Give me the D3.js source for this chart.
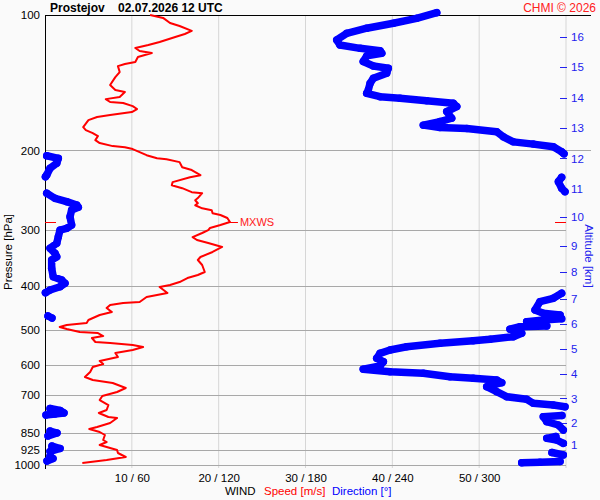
<!DOCTYPE html>
<html><head><meta charset="utf-8">
<script src="https://cdn.jsdelivr.net/npm/d3@7"></script>
<style>body{margin:0;background:#fafafa}svg{display:block;font-family:"Liberation Sans",Arial,sans-serif}</style>
</head><body><svg id="c" width="600" height="500"></svg>
<script>
// ---- data ----
const pressureTicks = [100,200,300,400,500,600,700,850,925,1000];
const speedTicks = [10,20,30,40,50];
const altitudeKm = [1,2,3,4,5,6,7,8,9,10,11,12,13,14,15,16];
const altitudePressure = [904.1,805.4,711.0,628.7,553.2,486.8,427.6,372.5,325.6,281.2,243.5,208.2,178.1,152.7,130.3,111.9];
const maxWindPressure = 288.4;
const maxWindLabel = "MXWS";

const speedPressure = [100,101.5,104.2,105.8,108.5,110.2,111.9,114.8,116.6,118.4,120.2,121.5,124.0,127.2,128.5,129.9,133.9,137.4,143.1,146.8,148.3,152.2,153.8,156.1,156.9,159.4,161.8,164.3,166.8,168.5,171.2,177.5,180.2,183.0,185.8,189.7,192.6,195.6,196.7,198.6,201.7,204.9,208.1,209.1,212.3,217.9,221.1,227.0,229.3,235.2,238.9,242.6,247.6,248.8,255.2,258.0,262.0,264.7,268.9,271.6,275.8,278.3,282.6,288.4,292.9,297.4,300.5,305.1,311.5,316.2,321.1,327.7,336.2,345.0,350.3,359.4,372.5,378.3,384.2,392.1,398.1,402.2,414.7,419.0,423.3,434.3,436.6,441.0,447.8,457.1,464.2,476.2,483.6,488.5,493.5,498.6,506.4,509.0,516.8,522.2,532.9,535.7,541.2,546.8,555.2,563.8,575.5,587.3,596.4,605.7,621.3,637.5,647.3,657.3,674.4,688.3,702.6,717.1,735.7,754.7,766.4,782.3,786.3,806.6,823.3,831.8,844.6,857.7,879.9,889.0,902.7,926.1,940.4,959.9,974.7,989.8];
const speedValue = [12.1,13.6,14.4,15.5,16.9,16.1,15.0,13.2,11.9,10.4,10.9,12.3,10.7,10.4,9.2,8.4,8.6,8.1,7.5,8.1,9.2,8.6,7.0,7.5,9.0,10.1,10.6,10.0,7.5,6.0,5.0,4.4,4.7,5.5,6.1,5.8,6.3,7.8,9.2,10.1,10.9,11.7,12.9,14.0,15.5,15.8,16.9,17.9,16.7,14.7,14.6,15.8,16.9,18.1,17.6,17.3,17.6,17.3,18.1,19.2,19.3,20.2,21.0,21.3,20.2,19.0,18.8,18.1,17.0,17.5,18.8,20.4,19.3,17.9,17.6,18.1,18.4,17.6,16.4,15.5,14.4,13.2,14.1,12.9,11.7,10.9,9.0,7.5,7.1,7.7,6.3,5.0,4.8,2.5,1.7,2.5,4.0,6.1,6.7,5.4,5.8,7.5,10.1,11.3,10.1,8.1,8.4,6.3,6.7,5.5,5.2,4.6,5.5,7.8,9.3,8.3,6.6,6.3,7.3,7.1,6.2,7.3,8.3,7.5,6.0,5.1,6.3,6.9,6.7,7.1,6.3,8.3,8.4,9.3,7.1,4.3];

const dirPressure = [98.8,101.7,104.3,107.0,109.8,113.6,116.6,118.6,120.0,121.6,123.3,126.9,129.8,131.3,134.7,138.2,141.9,146.8,149.3,151.9,153.1,155.0,157.0,159.8,163.9,169.6,172.5,175.7,177.8,178.7,181.8,186.5,191.4,193.6,196.3,201.4,203.5,205.5,208.2,213.6,219.1,226.7,228.7,229.5,234.6,242.7,246.9,249.0,255.5,259.9,264.4,267.5,271.3,280.7,292.9,297.9,300.5,311.0,321.6,329.9,338.5,344.5,350.3,365.5,381.6,388.1,394.7,401.6,408.4,414.1,415.3,426.2,433.6,452.4,460.1,464.2,466.6,471.4,473.0,476.2,480.3,488.5,491.0,492.7,499.2,509.8,518.7,525.6,529.4,536.5,545.9,555.2,564.7,579.3,589.4,602.6,612.8,620.4,625.5,636.5,641.8,647.3,656.3,669.9,687.2,705.1,714.5,729.4,735.7,742.1,748.9,756.7,766.4,770.3,774.3,776.3,781.0,801.2,814.9,836.0,840.3,848.9,862.1,864.3,872.4,879.9,894.9,907.3,918.9,933.3,938.0,950.1,955.0,967.2,979.7,982.2,985.7,988.2];
const dirValue = [270.7,256.8,240.7,222.3,208.5,201.6,203.8,217.7,231.5,232.7,222.3,219.9,226.9,237.2,236.1,226.9,224.6,223.4,222.3,231.5,245.3,263.7,282.1,284.5,277.6,281.0,272.9,261.4,272.9,291.4,312.1,316.7,323.6,337.4,351.2,357.0,358.6,1.2,9.2,8.1,3.5,1.2,0.3,357.0,354.7,357.0,359.3,1.2,6.9,15.0,21.9,23.0,18.4,17.3,18.4,15.0,10.4,9.2,8.1,3.5,6.9,8.1,4.6,4.6,5.7,11.5,13.8,10.4,3.5,0.3,357.0,351.2,342.0,338.6,344.3,355.9,2.1,4.8,357.0,344.3,332.8,342.0,346.7,328.2,321.3,329.4,323.6,307.5,295.9,272.9,249.9,238.4,231.5,229.2,233.8,231.5,219.9,238.4,261.4,279.8,295.9,312.1,315.6,305.2,312.1,319.0,332.8,337.4,351.2,359.3,3.5,10.4,13.1,6.9,0.7,357.2,344.3,346.7,354.7,358.1,3.5,8.3,2.1,353.0,346.7,353.6,358.1,4.8,10.4,3.5,350.3,358.1,3.5,5.5,1.4,355.9,342.0,329.4];

// ---- layout ----
const L = 45, R = 566, T = 15, B = 465, RX = 591;
const svg = d3.select("#c");
svg.append("rect").attr("width",600).attr("height",500).attr("fill","#fafafa");

const y = d3.scaleLog().domain([100,1000]).range([T,B]);
const xs = d3.scaleLinear().domain([0,60]).range([L,R]);
const xd = d3.scaleLinear().domain([0,360]).range([L,R]);

// vertical grid
svg.append("g").selectAll("line").data(speedTicks.concat([60])).join("line")
  .attr("x1",d=>xs(d)).attr("x2",d=>xs(d)).attr("y1",T).attr("y2",468)
  .attr("stroke","#d6d6d6").attr("stroke-width",1);
// horizontal grid
svg.append("g").selectAll("line").data(pressureTicks.slice(1)).join("line")
  .attr("x1",L).attr("x2",d=>d===200?RX:R).attr("y1",d=>Math.round(y(d))+0.5).attr("y2",d=>Math.round(y(d))+0.5)
  .attr("stroke","#a8a8a8").attr("stroke-width",1);
// frame lines
svg.append("line").attr("x1",L).attr("x2",RX).attr("y1",T+0.5).attr("y2",T+0.5).attr("stroke","#000");
svg.append("line").attr("x1",L+0.5).attr("x2",L+0.5).attr("y1",T).attr("y2",469).attr("stroke","#000");

// left axis
const ga = svg.append("g").attr("transform",`translate(${L},0)`)
  .call(d3.axisLeft(y).tickValues(pressureTicks).tickSize(0).tickPadding(5).tickFormat(d3.format("d")));
ga.select(".domain").remove();
ga.selectAll("text").attr("font-size",11.5).attr("fill","#000").attr("font-family","Liberation Sans, Arial, sans-serif");

// bottom axis
const gb = svg.append("g").attr("transform",`translate(0,${B})`)
  .call(d3.axisBottom(xs).tickValues(speedTicks).tickSize(0).tickPadding(9).tickFormat(d=>d+" / "+d*6));
gb.select(".domain").remove();
gb.selectAll("text").attr("font-size",11.5).attr("fill","#000").attr("font-family","Liberation Sans, Arial, sans-serif");

// right axis (altitude)
const gr = svg.append("g").attr("transform",`translate(${R},0)`)
  .call(d3.axisRight(y).tickValues(altitudePressure).tickSize(0).tickPadding(5).tickFormat((d,i)=>altitudeKm[i]));
gr.select(".domain").remove();
gr.selectAll("text").attr("font-size",11.5).attr("fill","#2222ee").attr("font-family","Liberation Sans, Arial, sans-serif");
svg.append("g").selectAll("line").data(altitudePressure).join("line")
  .attr("x1",R-6).attr("x2",R+1).attr("y1",d=>Math.round(y(d))+0.5).attr("y2",d=>Math.round(y(d))+0.5)
  .attr("stroke","#2222ee").attr("stroke-width",1);

// titles
svg.append("text").attr("x",50).attr("y",12).attr("font-size",12).attr("font-weight","bold")
  .attr("xml:space","preserve").text("Prostejov    02.07.2026 12 UTC");
svg.append("text").attr("x",596).attr("y",12).attr("font-size",12).attr("fill","#ff2020").attr("text-anchor","end").text("CHMI © 2026");
svg.append("text").attr("transform","translate(12,252) rotate(-90)").attr("text-anchor","middle").attr("font-size",11.5).text("Pressure [hPa]");
svg.append("text").attr("transform","translate(585,256) rotate(90)").attr("text-anchor","middle").attr("font-size",11.5).attr("fill","#2222ee").text("Altitude [km]");
svg.append("text").attr("x",225).attr("y",495).attr("font-size",11.5).text("WIND");
svg.append("text").attr("x",264).attr("y",495).attr("font-size",11.5).attr("fill","#ff0000").text("Speed [m/s]");
svg.append("text").attr("x",332).attr("y",495).attr("font-size",11.5).attr("fill","#0000ff").text("Direction [°]");

// direction (thick blue), split at wrap-around
const dirPts = dirPressure.map((p,i)=>[xd(dirValue[i]), y(p)]);
const segs = [];
let cur = [];
dirValue.forEach((d,i)=>{
  if (i>0 && Math.abs(d-dirValue[i-1])>180) { segs.push(cur); cur=[]; }
  cur.push(dirPts[i]);
});
segs.push(cur);
const line = d3.line();
svg.append("g").selectAll("path").data(segs).join("path")
  .attr("d",d=>line(d)).attr("fill","none").attr("stroke","#0000ff").attr("stroke-width",7.5)
  .attr("stroke-linejoin","round").attr("stroke-linecap","round");
svg.append("g").selectAll("circle").data(dirPts).join("circle")
  .attr("cx",d=>d[0]).attr("cy",d=>d[1]).attr("r",3.75).attr("fill","#0000ff");

// speed (red)
const spdPts = speedPressure.map((p,i)=>[xs(speedValue[i]), y(p)]);
svg.append("path").attr("d",line(spdPts)).attr("fill","none").attr("stroke","#ff0000").attr("stroke-width",2).attr("stroke-linejoin","round");

// max wind marker
const my = Math.round(y(maxWindPressure))+0.5;
const mi = speedPressure.indexOf(maxWindPressure);
const mx = xs(speedValue[mi]);
svg.append("line").attr("x1",L).attr("x2",L+11).attr("y1",my).attr("y2",my).attr("stroke","#ff0000");
svg.append("line").attr("x1",R-11).attr("x2",R).attr("y1",my).attr("y2",my).attr("stroke","#ff0000");
svg.append("line").attr("x1",mx).attr("x2",mx+8).attr("y1",my).attr("y2",my).attr("stroke","#ff0000");
svg.append("text").attr("x",mx+10).attr("y",my).attr("dy","0.35em").attr("font-size",11).attr("fill","#ff2020").text(maxWindLabel);
</script></body></html>
